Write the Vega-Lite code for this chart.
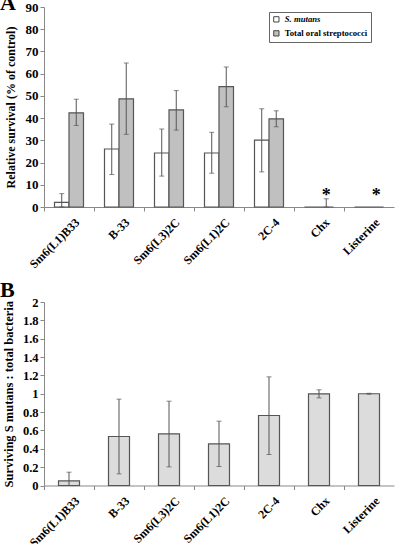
{
  "$schema": "https://vega.github.io/schema/vega-lite/v6.json",
  "padding": {"left": 0, "top": -8, "right": 5, "bottom": 0},
  "spacing": 9,
  "config": {
    "view": {"stroke": null},
    "font": "Liberation Serif",
    "axis": {
      "grid": false,
      "domainColor": "#888888",
      "tickColor": "#888888",
      "tickSize": 4,
      "labelOverlap": false,
      "labelFlush": false,
      "labelFont": "Liberation Serif",
      "labelFontWeight": "bold",
      "labelColor": "#000000",
      "titleFont": "Liberation Serif",
      "titleFontWeight": "bold",
      "titleColor": "#000000"
    }
  },
  "datasets": {
    "a": [
      {"category": "Sm6(L1)B33", "series": "S. mutans", "value": 2.1, "lo": 0, "hi": 6.0, "star": false},
      {"category": "Sm6(L1)B33", "series": "Total oral streptococci", "value": 42.4, "lo": 36.7, "hi": 48.5, "star": false},
      {"category": "B-33", "series": "S. mutans", "value": 26.1, "lo": 14.6, "hi": 37.3, "star": false},
      {"category": "B-33", "series": "Total oral streptococci", "value": 48.7, "lo": 32.7, "hi": 64.8, "star": false},
      {"category": "Sm6(L3)2C", "series": "S. mutans", "value": 24.3, "lo": 13.9, "hi": 35.1, "star": false},
      {"category": "Sm6(L3)2C", "series": "Total oral streptococci", "value": 43.7, "lo": 34.6, "hi": 52.4, "star": false},
      {"category": "Sm6(L1)2C", "series": "S. mutans", "value": 24.3, "lo": 15.2, "hi": 33.6, "star": false},
      {"category": "Sm6(L1)2C", "series": "Total oral streptococci", "value": 54.2, "lo": 45.1, "hi": 63.0, "star": false},
      {"category": "2C-4", "series": "S. mutans", "value": 30.1, "lo": 15.8, "hi": 44.2, "star": false},
      {"category": "2C-4", "series": "Total oral streptococci", "value": 39.7, "lo": 36.1, "hi": 43.3, "star": false},
      {"category": "Chx", "series": "S. mutans", "value": 0, "lo": null, "hi": null, "star": false},
      {"category": "Chx", "series": "Total oral streptococci", "value": 0, "lo": 0, "hi": 3.7, "star": true},
      {"category": "Listerine", "series": "S. mutans", "value": 0, "lo": null, "hi": null, "star": false},
      {"category": "Listerine", "series": "Total oral streptococci", "value": 0, "lo": null, "hi": null, "star": true}
    ],
    "b": [
      {"category": "Sm6(L1)B33", "value": 0.051, "lo": 0, "hi": 0.145},
      {"category": "B-33", "value": 0.534, "lo": 0.127, "hi": 0.941},
      {"category": "Sm6(L3)2C", "value": 0.563, "lo": 0.203, "hi": 0.919},
      {"category": "Sm6(L1)2C", "value": 0.454, "lo": 0.207, "hi": 0.701},
      {"category": "2C-4", "value": 0.763, "lo": 0.338, "hi": 1.184},
      {"category": "Chx", "value": 0.999, "lo": 0.955, "hi": 1.043},
      {"category": "Listerine", "value": 1.0, "lo": 0.995, "hi": 1.005}
    ]
  },
  "vconcat": [
    {
      "width": 350,
      "height": 200,
      "title": {"text": "A", "anchor": "start", "frame": "group", "fontSize": 22, "font": "Liberation Serif", "fontWeight": "bold", "dx": -44, "offset": -14},
      "data": {"name": "a"},
      "encoding": {
        "x": {
          "field": "category", "type": "nominal", "sort": null,
          "scale": {"paddingInner": 0, "paddingOuter": 0},
          "axis": {"title": null, "labelAngle": -45, "labelAlign": "right", "labelBaseline": "middle", "labelFontSize": 12, "tickOffset": -25, "labelOffset": 33, "labelPadding": 9}
        },
        "xOffset": {"field": "series", "type": "nominal", "scale": {"domain": ["S. mutans", "Total oral streptococci"], "paddingInner": 0, "paddingOuter": 0.724}}
      },
      "layer": [
        {
          "mark": {"type": "bar", "stroke": "#555555", "strokeWidth": 1.2},
          "encoding": {
            "y": {"field": "value", "type": "quantitative", "scale": {"domain": [0, 90]},
              "axis": {"title": "Relative survival (% of control)", "values": [0, 10, 20, 30, 40, 50, 60, 70, 80, 90], "labelFontSize": 13, "titleFontSize": 12, "titlePadding": 8, "labelPadding": 2}},
            "fill": {"field": "series", "type": "nominal",
              "scale": {"domain": ["S. mutans", "Total oral streptococci"], "range": ["#ffffff", "#c0c0c0"]},
              "legend": {
                "title": null, "orient": "none", "legendX": 225, "legendY": 5,
                "fillColor": "#ffffff", "strokeColor": "#666666", "padding": 3,
                "symbolType": "square", "symbolSize": 28, "symbolStrokeColor": "#444444", "symbolStrokeWidth": 1,
                "labelFont": "Liberation Serif", "labelFontWeight": "bold", "labelFontSize": 8.7, "labelColor": "#000000", "rowPadding": 3,
                "encode": {"labels": {"update": {"fontStyle": {"signal": "datum.label == 'S. mutans' ? 'italic' : 'normal'"}}}}
              }}
          }
        },
        {
          "transform": [{"filter": "datum.hi != null"}],
          "mark": {"type": "rule", "color": "#555555", "strokeWidth": 1},
          "encoding": {"y": {"field": "lo", "type": "quantitative", "scale": {"domain": [0, 90]},
              "axis": {"title": "Relative survival (% of control)", "values": [0, 10, 20, 30, 40, 50, 60, 70, 80, 90], "labelFontSize": 13, "titleFontSize": 12, "titlePadding": 8, "labelPadding": 2}}, "y2": {"field": "hi"}}
        },
        {
          "transform": [{"filter": "datum.hi != null"}],
          "mark": {"type": "tick", "color": "#555555", "size": 5, "thickness": 1, "orient": "horizontal"},
          "encoding": {"y": {"field": "hi", "type": "quantitative", "scale": {"domain": [0, 90]},
              "axis": {"title": "Relative survival (% of control)", "values": [0, 10, 20, 30, 40, 50, 60, 70, 80, 90], "labelFontSize": 13, "titleFontSize": 12, "titlePadding": 8, "labelPadding": 2}}}
        },
        {
          "transform": [{"filter": "datum.hi != null"}],
          "mark": {"type": "tick", "color": "#555555", "size": 5, "thickness": 1, "orient": "horizontal"},
          "encoding": {"y": {"field": "lo", "type": "quantitative", "scale": {"domain": [0, 90]},
              "axis": {"title": "Relative survival (% of control)", "values": [0, 10, 20, 30, 40, 50, 60, 70, 80, 90], "labelFontSize": 13, "titleFontSize": 12, "titlePadding": 8, "labelPadding": 2}}}
        },
        {
          "transform": [{"filter": "datum.star"}],
          "mark": {"type": "text", "text": "*", "fontSize": 18, "fontWeight": "bold", "font": "Liberation Serif", "baseline": "middle", "color": "#000000"},
          "encoding": {"y": {"datum": 5, "type": "quantitative", "scale": {"domain": [0, 90]},
              "axis": {"title": "Relative survival (% of control)", "values": [0, 10, 20, 30, 40, 50, 60, 70, 80, 90], "labelFontSize": 13, "titleFontSize": 12, "titlePadding": 8, "labelPadding": 2}}}
        }
      ]
    },
    {
      "width": 350,
      "height": 183.5,
      "title": {"text": "B", "anchor": "start", "frame": "group", "fontSize": 22, "font": "Liberation Serif", "fontWeight": "bold", "dx": -44, "offset": -6},
      "data": {"name": "b"},
      "encoding": {
        "x": {
          "field": "category", "type": "nominal", "sort": null,
          "scale": {"paddingInner": 0, "paddingOuter": 0},
          "axis": {"title": null, "labelAngle": -45, "labelAlign": "right", "labelBaseline": "middle", "labelFontSize": 12, "tickOffset": -25, "labelOffset": 33, "labelPadding": 9}
        }
      },
      "layer": [
        {
          "mark": {"type": "bar", "fill": "#dcdcdc", "stroke": "#555555", "strokeWidth": 1.2, "width": {"band": 0.42}},
          "encoding": {
            "y": {"field": "value", "type": "quantitative", "scale": {"domain": [0, 2]},
              "axis": {"title": "Surviving S mutans : total bacteria", "values": [0, 0.2, 0.4, 0.6, 0.8, 1, 1.2, 1.4, 1.6, 1.8, 2], "format": "~g", "labelFontSize": 12.5, "titleFontSize": 12.5, "titlePadding": 7, "labelPadding": 2}}
          }
        },
        {
          "mark": {"type": "rule", "color": "#555555", "strokeWidth": 1},
          "encoding": {"y": {"field": "lo", "type": "quantitative", "scale": {"domain": [0, 2]},
              "axis": {"title": "Surviving S mutans : total bacteria", "values": [0, 0.2, 0.4, 0.6, 0.8, 1, 1.2, 1.4, 1.6, 1.8, 2], "format": "~g", "labelFontSize": 12.5, "titleFontSize": 12.5, "titlePadding": 7, "labelPadding": 2}}, "y2": {"field": "hi"}}
        },
        {
          "mark": {"type": "tick", "color": "#555555", "size": 5, "thickness": 1, "orient": "horizontal"},
          "encoding": {"y": {"field": "hi", "type": "quantitative", "scale": {"domain": [0, 2]},
              "axis": {"title": "Surviving S mutans : total bacteria", "values": [0, 0.2, 0.4, 0.6, 0.8, 1, 1.2, 1.4, 1.6, 1.8, 2], "format": "~g", "labelFontSize": 12.5, "titleFontSize": 12.5, "titlePadding": 7, "labelPadding": 2}}}
        },
        {
          "mark": {"type": "tick", "color": "#555555", "size": 5, "thickness": 1, "orient": "horizontal"},
          "encoding": {"y": {"field": "lo", "type": "quantitative", "scale": {"domain": [0, 2]},
              "axis": {"title": "Surviving S mutans : total bacteria", "values": [0, 0.2, 0.4, 0.6, 0.8, 1, 1.2, 1.4, 1.6, 1.8, 2], "format": "~g", "labelFontSize": 12.5, "titleFontSize": 12.5, "titlePadding": 7, "labelPadding": 2}}}
        }
      ]
    }
  ]
}
